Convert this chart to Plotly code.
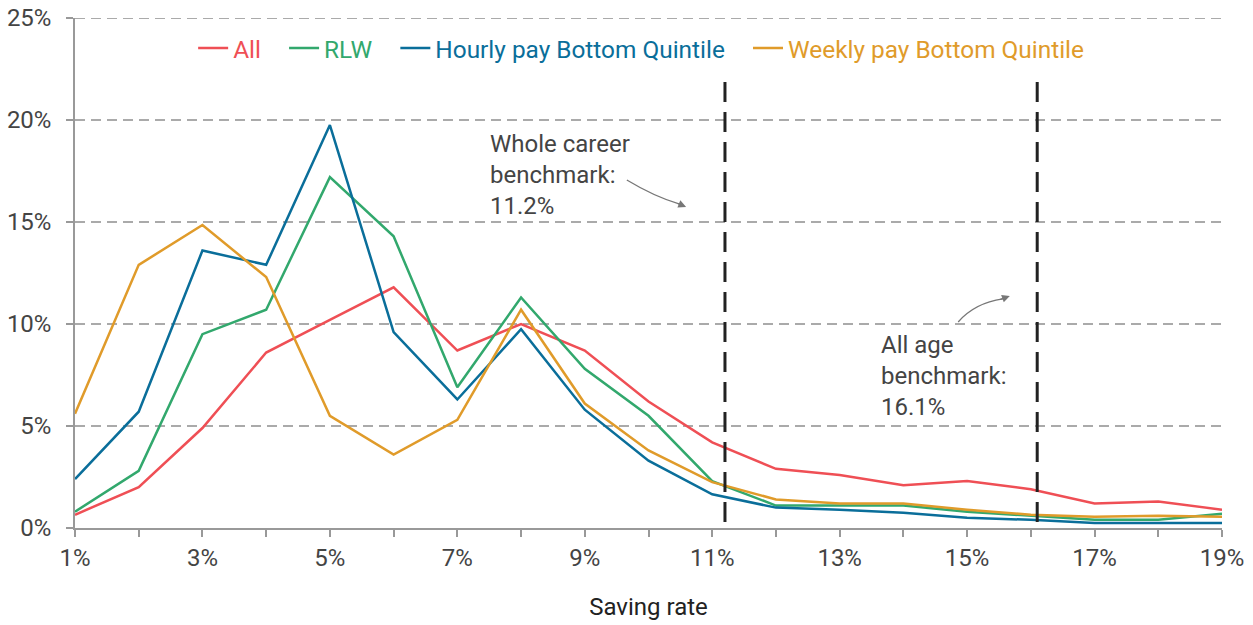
import plotly.graph_objects as go

rates = list(range(1, 20))
tick_labels = [f"{r}%" if r % 2 == 1 else "" for r in rates]

all_vals = [0.65, 2.0, 4.9, 8.6, 10.2, 11.8, 8.7, 10.0, 8.7, 6.2, 4.2, 2.9, 2.6, 2.1, 2.3, 1.9, 1.2, 1.3, 0.9]
rlw_vals = [0.8, 2.8, 9.5, 10.7, 17.2, 14.3, 6.9, 11.3, 7.8, 5.5, 2.3, 1.1, 1.1, 1.1, 0.8, 0.6, 0.4, 0.4, 0.7]
hourly_vals = [2.4, 5.7, 13.6, 12.9, 19.75, 9.6, 6.3, 9.75, 5.8, 3.3, 1.65, 1.0, 0.9, 0.75, 0.5, 0.4, 0.25, 0.25, 0.25]
weekly_vals = [5.6, 12.9, 14.85, 12.3, 5.5, 3.6, 5.3, 10.7, 6.1, 3.8, 2.25, 1.4, 1.2, 1.2, 0.9, 0.65, 0.55, 0.6, 0.55]

series = [
    ("All", all_vals, "#EF4F55"),
    ("RLW", rlw_vals, "#32A86D"),
    ("Hourly pay Bottom Quintile", hourly_vals, "#0A6E9A"),
    ("Weekly pay Bottom Quintile", weekly_vals, "#E09B2A"),
]

benchmarks = [11.2, 16.1]
y_ticks = [0, 5, 10, 15, 20, 25]

FONT = "Roboto"
FS = 24
NB = "\u00a0\u00a0\u00a0"
fig = go.Figure()
for name, vals, col in series:
    fig.add_trace(go.Scatter(
        x=rates, y=vals, mode="lines", line=dict(color=col, width=2.5),
        name=f"<span style='color:{col}'>{name}</span>{NB}",
    ))

# top gridline (plotly skips the grid at the range edge)
fig.add_shape(type="line", xref="paper", yref="y", x0=0, x1=1, y0=y_ticks[-1], y1=y_ticks[-1],
              line=dict(color="#AAAAAA", width=2, dash="10px,6px"), layer="below")

for b in benchmarks:
    fig.add_shape(type="line", x0=b, x1=b, y0=0.3, y1=21.9, xref="x", yref="y",
                  line=dict(color="#222222", width=3, dash="20px,10px"))

# annotation texts
fig.add_annotation(x=7.475, y=19.6, xref="x", yref="y", text="Whole career<br>benchmark:<br>11.2%",
                   showarrow=False, xanchor="left", yanchor="top", align="left",
                   font=dict(family=FONT, size=FS, color="#444444"))
fig.add_annotation(x=13.61, y=9.75, xref="x", yref="y", text="All age<br>benchmark:<br>16.1%",
                   showarrow=False, xanchor="left", yanchor="top", align="left",
                   font=dict(family=FONT, size=FS, color="#444444"))

# curved arrows
fig.add_shape(type="path", xref="x", yref="y",
              path="M 9.66,17.06 Q 10.10,16.23 10.49,15.88",
              line=dict(color="#777777", width=1.3))
fig.add_annotation(x=10.59, y=15.74, ax=10.44, ay=15.93, xref="x", yref="y", axref="x", ayref="y",
                   text="", showarrow=True, arrowhead=2, arrowsize=1.2, arrowwidth=1.3, arrowcolor="#777777")
fig.add_shape(type="path", xref="x", yref="y",
              path="M 14.86,10.10 Q 15.12,11.03 15.56,11.23",
              line=dict(color="#777777", width=1.3))
fig.add_annotation(x=15.67, y=11.37, ax=15.50, ay=11.18, xref="x", yref="y", axref="x", ayref="y",
                   text="", showarrow=True, arrowhead=2, arrowsize=1.2, arrowwidth=1.3, arrowcolor="#777777")

fig.update_layout(
    width=1253, height=625,
    margin=dict(l=75, r=31, t=18, b=97),
    plot_bgcolor="white", paper_bgcolor="white",
    font=dict(family=FONT, size=FS, color="#444444"),
    showlegend=True,
    legend=dict(orientation="h", x=0.103, y=0.985, xanchor="left", yanchor="top",
                font=dict(family=FONT, size=24.4), itemwidth=30, bgcolor="rgba(0,0,0,0)",
                tracegroupgap=0),
    xaxis=dict(range=[1, 19], tickvals=rates, ticktext=tick_labels, showgrid=False,
               showline=True, linecolor="#999999", linewidth=1.5,
               ticks="outside", ticklen=7, tickcolor="#999999", tickwidth=1.5,
               tickfont=dict(family=FONT, size=FS, color="#444444"),
               ticklabeloverflow="allow",
               title=dict(text="Saving rate", font=dict(family=FONT, size=FS, color="#222222"), standoff=28),
               zeroline=False, automargin=False),
    yaxis=dict(range=[0, 25], tickvals=y_ticks,
               ticktext=[f"{v}%" for v in y_ticks],
               showgrid=True, gridcolor="#AAAAAA", gridwidth=2, griddash="10px,6px",
               showline=True, linecolor="#999999", linewidth=1.5,
               ticks="outside", ticklen=7, tickcolor="#999999", tickwidth=1.5,
               ticklabelstandoff=10, ticklabeloverflow="allow",
               tickfont=dict(family=FONT, size=FS, color="#444444"),
               zeroline=False, automargin=False),
)

fig.write_html("out.html", config={"displayModeBar": False},
               post_script="document.body.style.margin='0';")
